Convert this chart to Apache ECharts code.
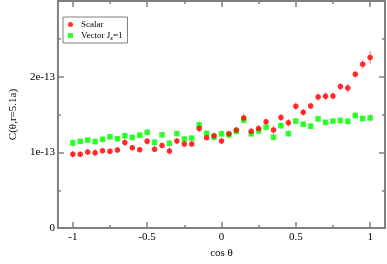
<!DOCTYPE html>
<html><head><meta charset="utf-8">
<script src="https://cdn.jsdelivr.net/npm/echarts@6/dist/echarts.min.js"></script>
<style>html,body{margin:0;padding:0;background:#fff}#c{width:387px;height:264px}</style>
</head><body><div id="c"></div>
<script>
var cosTheta = [-1,-0.95,-0.9,-0.85,-0.8,-0.75,-0.7,-0.65,-0.6,-0.55,-0.5,-0.45,-0.4,-0.35,-0.3,-0.25,-0.2,-0.15,-0.1,-0.05,0,0.05,0.1,0.15,0.2,0.25,0.3,0.35,0.4,0.45,0.5,0.55,0.6,0.65,0.7,0.75,0.8,0.85,0.9,0.95,1];
// values in units of 1e-13
var scalarVals = [0.977,0.977,1.006,0.994,1.023,1.015,1.032,1.130,1.061,1.036,1.146,1.041,1.092,1.019,1.150,1.112,1.112,1.316,1.194,1.219,1.150,1.248,1.296,1.456,1.278,1.316,1.405,1.296,1.461,1.392,1.609,1.529,1.614,1.732,1.741,1.745,1.869,1.851,2.034,2.166,2.255];
var scalarErr  = [0.045,0.035,0.035,0.045,0.035,0.035,0.04,0.045,0.035,0.035,0.045,0.04,0.035,0.045,0.04,0.035,0.035,0.05,0.035,0.04,0.04,0.04,0.04,0.06,0.04,0.045,0.04,0.05,0.045,0.05,0.05,0.045,0.045,0.05,0.05,0.045,0.045,0.06,0.045,0.06,0.085];
var vectorVals = [1.125,1.146,1.163,1.143,1.172,1.206,1.181,1.219,1.197,1.227,1.265,1.134,1.232,1.121,1.248,1.176,1.189,1.363,1.252,1.201,1.245,1.232,1.278,1.427,1.245,1.283,1.334,1.201,1.354,1.248,1.414,1.372,1.346,1.443,1.397,1.414,1.423,1.410,1.487,1.448,1.456];
var vectorErr  = [0.055,0.035,0.03,0.04,0.03,0.035,0.035,0.045,0.03,0.035,0.045,0.045,0.03,0.04,0.035,0.035,0.03,0.055,0.035,0.045,0.035,0.04,0.035,0.05,0.035,0.04,0.04,0.04,0.045,0.045,0.04,0.035,0.045,0.04,0.04,0.035,0.04,0.04,0.035,0.035,0.05];
var xMajor = [-1,-0.5,0,0.5,1];
var xMinor = [-0.75,-0.25,0.25,0.75];
var yMajor = [0,1,2,3];
var yMinor = [0.5,1.5,2.5];
var yTickLabels = ['0','1e-13','2e-13'];

var FONT = 'Liberation Serif';
var frameColor = '#808080';

function pts(vals){ return cosTheta.map(function(x,i){return [x, vals[i]];}); }
function errs(vals, e){ return cosTheta.map(function(x,i){return [x, vals[i]-e[i], vals[i]+e[i]];}); }
function errRender(color){
  return function(params, api){
    var a = api.coord([api.value(0), api.value(1)]);
    var b = api.coord([api.value(0), api.value(2)]);
    return {type:'line', shape:{x1:a[0],y1:a[1],x2:b[0],y2:b[1]}, style:{stroke:color, lineWidth:1}};
  };
}
function xAx(pos, ticks, len, labels){
  return {type:'value', min:-1.1, max:1.1, position:pos, gridIndex:0,
    axisLine:{show:false, onZero:false}, splitLine:{show:false},
    axisTick:{show:true, inside:true, length:len, customValues:ticks, lineStyle:{color:frameColor, width:1.5}},
    axisLabel:{show:labels, customValues:xMajor, margin:4, color:'#000', fontFamily:FONT, fontSize:11},
    name: labels ? 'cos θ' : '', nameLocation:'middle', nameGap:17,
    nameTextStyle:{color:'#000', fontFamily:FONT, fontSize:11}};
}
function yAx(pos, ticks, len, labels){
  return {type:'value', min:0, max:3, position:pos, gridIndex:0,
    axisLine:{show:false, onZero:false}, splitLine:{show:false},
    axisTick:{show:true, inside:true, length:len, customValues:ticks, lineStyle:{color:frameColor, width:1.5}},
    axisLabel:{show:labels, customValues:[0,1,2], margin:3, color:'#000', fontFamily:FONT, fontSize:11,
      formatter:function(v){return yTickLabels[Math.round(v)];}},
    name: labels ? 'C(θ,r=5.1a)' : '', nameLocation:'middle', nameGap:37,
    nameTextStyle:{color:'#000', fontFamily:FONT, fontSize:11}};
}

var chart = echarts.init(document.getElementById('c'), null, {renderer:'canvas'});
chart.setOption({
  animation:false,
  backgroundColor:'#fff',
  grid:{left:46, right:2, top:1, bottom:26, show:true, borderColor:frameColor, borderWidth:2, backgroundColor:'transparent'},
  xAxis:[xAx('bottom', xMajor, 6, true), xAx('bottom', xMinor, 3, false), xAx('top', xMajor, 6, false), xAx('top', xMinor, 3, false)],
  yAxis:[yAx('left', yMajor, 6, true), yAx('left', yMinor, 3, false), yAx('right', yMajor, 6, false), yAx('right', yMinor, 3, false)],
  legend:{
    left:63, top:17, orient:'vertical', padding:[3,5,2,5], itemGap:2,
    itemWidth:5, itemHeight:5, borderColor:frameColor, borderWidth:1, backgroundColor:'#fff',
    data:[{name:'Scalar', icon:'circle'},{name:'Vector', icon:'rect'}],
    formatter:function(n){ return n==='Scalar' ? '{a|Scalar}' : '{a|Vector J}{s|z}{b|=1}'; },
    textStyle:{rich:{
      a:{fontFamily:FONT, fontSize:9, color:'#000', padding:[0,0,0,3]},
      b:{fontFamily:FONT, fontSize:9, color:'#000'},
      s:{fontFamily:FONT, fontSize:6, color:'#000', verticalAlign:'bottom', padding:[5,0,0,0]}}}
  },
  series:[
    {type:'custom', name:'ScalarErr', renderItem:errRender('rgba(255,0,0,0.55)'), data:errs(scalarVals, scalarErr), z:1, silent:true},
    {type:'custom', name:'VectorErr', renderItem:errRender('rgba(0,220,0,0.55)'), data:errs(vectorVals, vectorErr), z:1, silent:true},
    {type:'scatter', name:'Scalar', symbol:'circle', symbolSize:5.5, itemStyle:{color:'#ff0000'}, data:pts(scalarVals), z:3},
    {type:'scatter', name:'Vector', symbol:'rect', symbolSize:5.5, itemStyle:{color:'#00ff00'}, data:pts(vectorVals), z:2}
  ]
});
</script></body></html>
